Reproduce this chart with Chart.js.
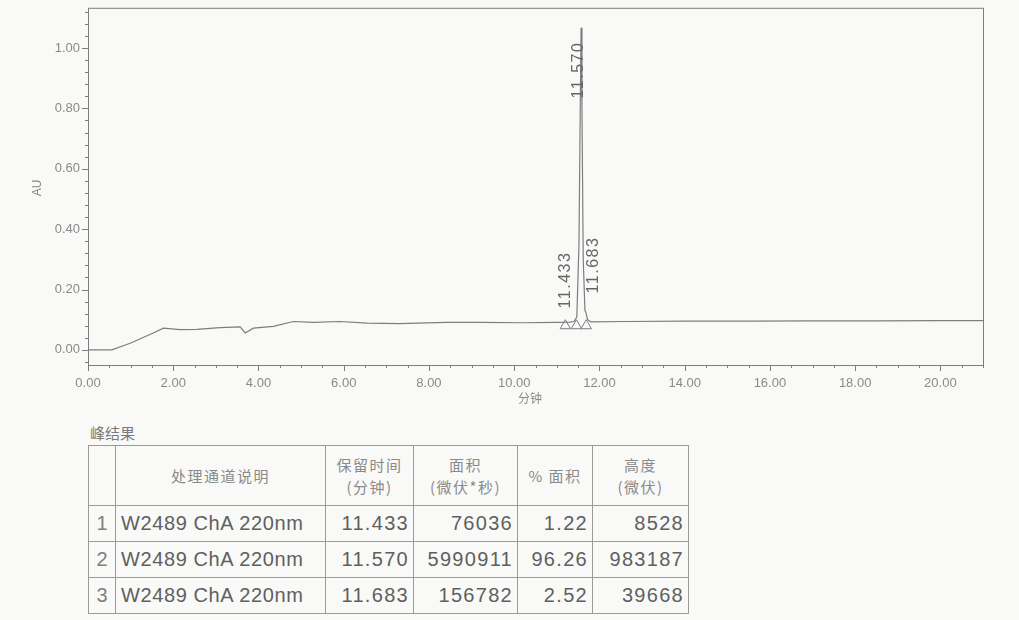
<!DOCTYPE html>
<html>
<head>
<meta charset="utf-8">
<script src="https://cdn.jsdelivr.net/npm/chart.js@4"></script>
<style>
  body { margin: 0; background: #f9f9f8; width: 1019px; height: 620px; overflow: hidden; font-family: "Liberation Sans", Arial, sans-serif; }
  #wrap { position: absolute; left: 0; top: 0; width: 1019px; height: 415px; }
  #title { position: absolute; left: 90px; top: 422px; font: 15px "Noto Sans CJK SC"; color: #7a7a7a; }
  table { position: absolute; left: 88px; top: 445px; border-collapse: collapse; color: #5f5f5f; table-layout: fixed; }
  td, th { border: 1px solid #9a9a9a; padding: 0 4px; overflow: hidden; white-space: nowrap; }
  th { font: 15px/22px "Noto Sans CJK SC"; letter-spacing: 1.5px; color: #8a8a8a; font-weight: normal; height: 59px; }
  td { font-size: 20px; letter-spacing: 1.3px; height: 35px; text-align: right; }
  td.n { text-align: center; padding: 0; color: #808080; letter-spacing: 0; }
  td.d { text-align: left; padding-left: 5px; letter-spacing: 0.6px; }
</style>
</head>
<body>
<div id="wrap"><canvas id="chart" width="1019" height="415"></canvas></div>
<div id="title">峰结果</div>
<table id="peaks"></table>

<script>
// Chromatogram trace (minutes, AU)
const timeMin = [0, 0.3, 0.56, 0.99, 1.53, 1.77, 2.16, 2.55, 3.1, 3.57, 3.69, 3.88, 4.35, 4.82, 5.3, 5.9, 6.55, 7.3, 8.4, 9.2, 10.2, 11.0, 11.3, 11.4, 11.433, 11.47, 11.52, 11.55, 11.57, 11.59, 11.62, 11.66, 11.683, 11.72, 11.8, 12.6, 14.0, 15.5, 17.0, 18.5, 20.0, 21.0];
const signalAU = [0, 0, 0, 0.022, 0.056, 0.072, 0.067, 0.068, 0.074, 0.076, 0.056, 0.072, 0.078, 0.094, 0.091, 0.094, 0.089, 0.087, 0.091, 0.091, 0.09, 0.091, 0.092, 0.094, 0.1, 0.11, 0.35, 0.8, 1.067, 0.8, 0.3, 0.13, 0.125, 0.1, 0.093, 0.094, 0.095, 0.095, 0.096, 0.096, 0.097, 0.097];

// Peak start / apex / end markers
const markerTimes = [11.2, 11.46, 11.69];
const markerAU = [0.08, 0.08, 0.08];

// Peak labels
const peakLabels = ['11.433', '11.570', '11.683'];
const peakTimes = [11.433, 11.570, 11.683];

// Peak results table
const colHeads = ['', '处理通道说明', '保留时间<br>(分钟)', '面积<br>(微伏*秒)', '% 面积', '高度<br>(微伏)'];
const channel = ['W2489 ChA 220nm', 'W2489 ChA 220nm', 'W2489 ChA 220nm'];
const retention = ['11.433', '11.570', '11.683'];
const area = ['76036', '5990911', '156782'];
const areaPct = ['1.22', '96.26', '2.52'];
const heightUV = ['8528', '983187', '39668'];

const ink = '#7d7d7d';
const textInk = '#8a8a8a';

// Box, tick marks, axis titles, peak labels
const framePlugin = {
    id: 'frame',
    afterDraw(chart) {
        const ctx = chart.ctx;
        const a = chart.chartArea;
        const xs = chart.scales.x;
        const ys = chart.scales.y;
        ctx.save();
        ctx.strokeStyle = ink;
        ctx.lineWidth = 1;
        ctx.strokeRect(a.left + 0.5, a.top + 0.5, a.right - a.left, a.bottom - a.top);

        // x ticks
        ctx.beginPath();
        for (let t = 0; t <= 21.001; t += 0.5) {
            const px = Math.round(xs.getPixelForValue(t)) + 0.5;
            const major = Math.abs(t / 2 - Math.round(t / 2)) < 1e-6;
            ctx.moveTo(px, a.bottom);
            ctx.lineTo(px, a.bottom + (major ? 6 : 3));
        }
        // y ticks
        for (let v = -0.04; v <= 1.121; v += 0.04) {
            const py = Math.round(ys.getPixelForValue(v)) + 0.5;
            const major = Math.abs(v / 0.2 - Math.round(v / 0.2)) < 1e-6;
            ctx.moveTo(a.left, py);
            ctx.lineTo(a.left - (major ? 6 : 3), py);
        }
        ctx.stroke();

        // axis titles
        ctx.fillStyle = textInk;
        ctx.font = '12px "Noto Sans CJK SC"';
        ctx.textAlign = 'center';
        ctx.textBaseline = 'middle';
        ctx.fillText('分钟', 530, 398);
        ctx.save();
        ctx.translate(38, 188);
        ctx.rotate(-Math.PI / 2);
        ctx.font = '12px "Liberation Sans"';
        ctx.fillText('AU', 0, 0);
        ctx.restore();

        // peak labels, rotated along the peak
        ctx.fillStyle = '#666';
        ctx.font = '16px "Liberation Sans"';
        ctx.letterSpacing = '1.5px';
        const offs = [[-10, 280], [-3, 70], [8, 265]];
        peakLabels.forEach((lab, i) => {
            const px = xs.getPixelForValue(peakTimes[i]) + offs[i][0];
            ctx.save();
            ctx.translate(px, offs[i][1]);
            ctx.rotate(-Math.PI / 2);
            ctx.fillText(lab, 0, 0);
            ctx.restore();
        });
        ctx.restore();
    }
};

new Chart(document.getElementById('chart'), {
    type: 'line',
    data: {
        datasets: [
            {
                data: timeMin.map((t, i) => ({ x: t, y: signalAU[i] })),
                borderColor: ink,
                borderWidth: 1.2,
                pointRadius: 0,
                tension: 0
            },
            {
                data: markerTimes.map((t, i) => ({ x: t, y: markerAU[i] })),
                showLine: false,
                pointStyle: 'triangle',
                pointRadius: 6,
                pointBackgroundColor: 'rgba(255,255,255,0)',
                pointBorderColor: ink,
                pointBorderWidth: 1
            }
        ]
    },
    options: {
        responsive: false,
        devicePixelRatio: 1,
        animation: false,
        layout: { padding: { top: 3, right: 36, left: 0, bottom: 0 } },
        plugins: { legend: { display: false }, tooltip: { enabled: false } },
        scales: {
            x: {
                type: 'linear',
                min: 0,
                max: 21,
                grid: { display: false },
                border: { display: false },
                afterFit(scale) { scale.height = 50; },
                ticks: {
                    stepSize: 2,
                    autoSkip: false,
                    maxRotation: 0,
                    padding: 3,
                    color: textInk,
                    font: { family: 'Liberation Sans', size: 13 },
                    callback: v => (v > 20.5 ? '' : v.toFixed(2))
                }
            },
            y: {
                min: -0.05,
                max: 1.133,
                grid: { display: false },
                border: { display: false },
                afterFit(scale) { scale.width = 88; },
                ticks: {
                    stepSize: 0.2,
                    padding: 0,
                    color: textInk,
                    font: { family: 'Liberation Sans', size: 13 },
                    callback: v => (Math.abs(v / 0.2 - Math.round(v / 0.2)) < 1e-6 && v > -0.01) ? v.toFixed(2) : ''
                }
            }
        }
    },
    plugins: [framePlugin]
});

// Build results table
const tbl = document.getElementById('peaks');
const widths = [27, 210, 88, 104, 75, 96];
let html = '<colgroup>' + widths.map(w => `<col style="width:${w}px">`).join('') + '</colgroup>';
html += '<tr>' + colHeads.map(h => `<th>${h}</th>`).join('') + '</tr>';
channel.forEach((c, i) => {
    html += `<tr><td class="n">${i + 1}</td><td class="d">${c}</td><td>${retention[i]}</td><td>${area[i]}</td><td>${areaPct[i]}</td><td>${heightUV[i]}</td></tr>`;
});
tbl.innerHTML = html;
tbl.style.width = widths.reduce((s, w) => s + w, 0) + 'px';
</script>
</body>
</html>
